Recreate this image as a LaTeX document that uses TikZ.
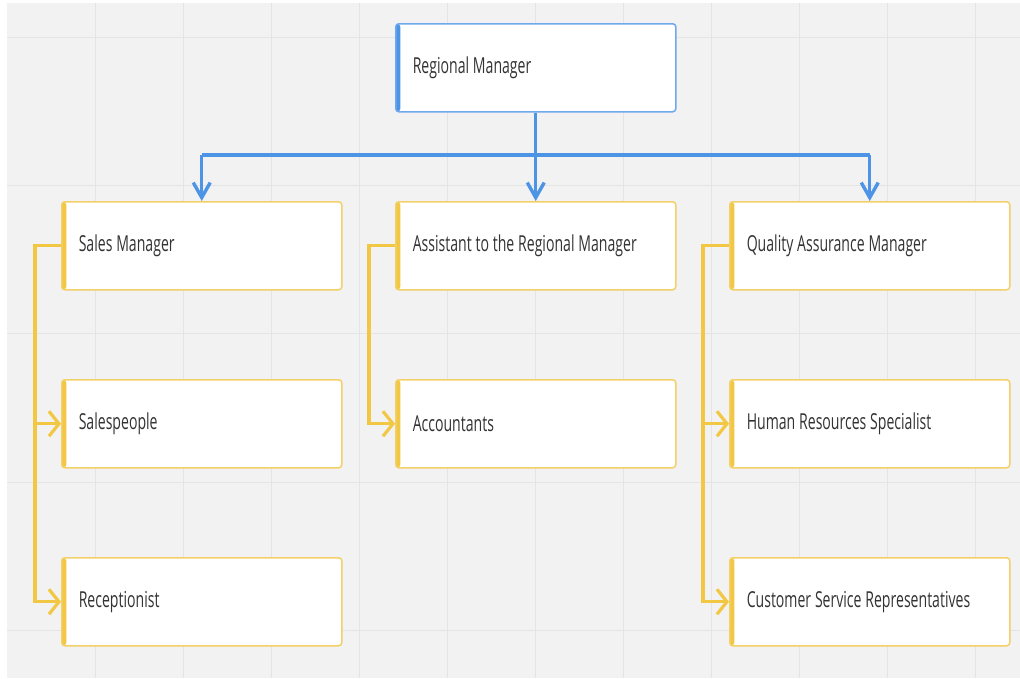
\documentclass[tikz,border=0pt]{standalone}
\usepackage{fontspec}
\setmainfont{Open Sans}[FakeStretch=0.64]
\usetikzlibrary{arrows.meta}
\newcommand{\orgfnt}{\fontsize{22}{26}\selectfont}
\definecolor{bgc}{HTML}{F2F2F2}
\definecolor{gridc}{HTML}{E4E4E4}
\definecolor{bluec}{HTML}{4D94E6}
\definecolor{blueb}{HTML}{6FA8EC}
\definecolor{yelc}{HTML}{F2C744}
\definecolor{yelb}{HTML}{F3D068}
\definecolor{txt}{HTML}{333333}
\tikzset{
  orgbox/.style={rectangle, rounded corners=3pt, fill=white, line width=1.5pt,
    minimum width=280pt, minimum height=88pt, inner xsep=17pt, text width=246pt,
    align=left, anchor=north west, text=txt, font=\orgfnt,
    execute at begin node={\spaceskip=3.8pt\relax\xspaceskip=3.8pt\relax}},
  ybox/.style={orgbox, draw=yelb, path picture={\fill[yelc] (path picture bounding box.south west) rectangle ([xshift=4.5pt]path picture bounding box.north west);}},
  bbox/.style={orgbox, draw=blueb, path picture={\fill[bluec] (path picture bounding box.south west) rectangle ([xshift=4.5pt]path picture bounding box.north west);}},
  bline/.style={draw=bluec, line width=3.4pt},
  barrow/.style={bline, -{Straight Barb[length=15pt,width=17pt]}},
  yline/.style={draw=yelc, line width=3.2pt},
  yarrow/.style={yline, -{Straight Barb[length=10pt,width=25pt]}},
  gline/.style={draw=gridc, line width=1pt}
}
\begin{document}
\begin{tikzpicture}[x=1pt,y=-1pt]
\useasboundingbox (0,0) rectangle (1020,678);
\fill[white] (0,0) rectangle (1020,678);
\fill[bgc] (7,3) rectangle (1020,678);
\foreach \x in {95,183,...,975} \draw[gline] (\x,3) -- (\x,678);
\foreach \y in {37,185,333,482,630} \draw[gline] (7,\y) -- (1020,\y);

\node[bbox] (rm) at (395,23) {Regional Manager};
\node[ybox] (sm) at (61,201) {Sales Manager};
\node[ybox] (as) at (395,201) {Assistant to the Regional Manager};
\node[ybox] (qa) at (729,201) {Quality Assurance Manager};
\node[ybox] (sp) at (61,379) {Salespeople};
\node[ybox] (ac) at (395,379) {Accountants};
\node[ybox] (hr) at (729,379) {Human Resources Specialist};
\node[ybox] (rc) at (61,557) {Receptionist};
\node[ybox] (cs) at (729,557) {Customer Service Representatives};

\coordinate (bus) at (535,155);
\draw[bline] (rm.south) -- (rm.south |- bus);
\draw[bline] (sm.north |- bus) -- (qa.north |- bus);
\draw[barrow] (sm.north |- bus) -- (sm.north);
\draw[barrow] (as.north |- bus) -- (as.north);
\draw[barrow] (qa.north |- bus) -- (qa.north);

\draw[yarrow] (sm.west) -- ++(-26,0) |- (sp.west);
\draw[yarrow] (sm.west) -- ++(-26,0) |- (rc.west);
\draw[yarrow] (as.west) -- ++(-26,0) |- (ac.west);
\draw[yarrow] (qa.west) -- ++(-26,0) |- (hr.west);
\draw[yarrow] (qa.west) -- ++(-26,0) |- (cs.west);
\end{tikzpicture}
\end{document}
